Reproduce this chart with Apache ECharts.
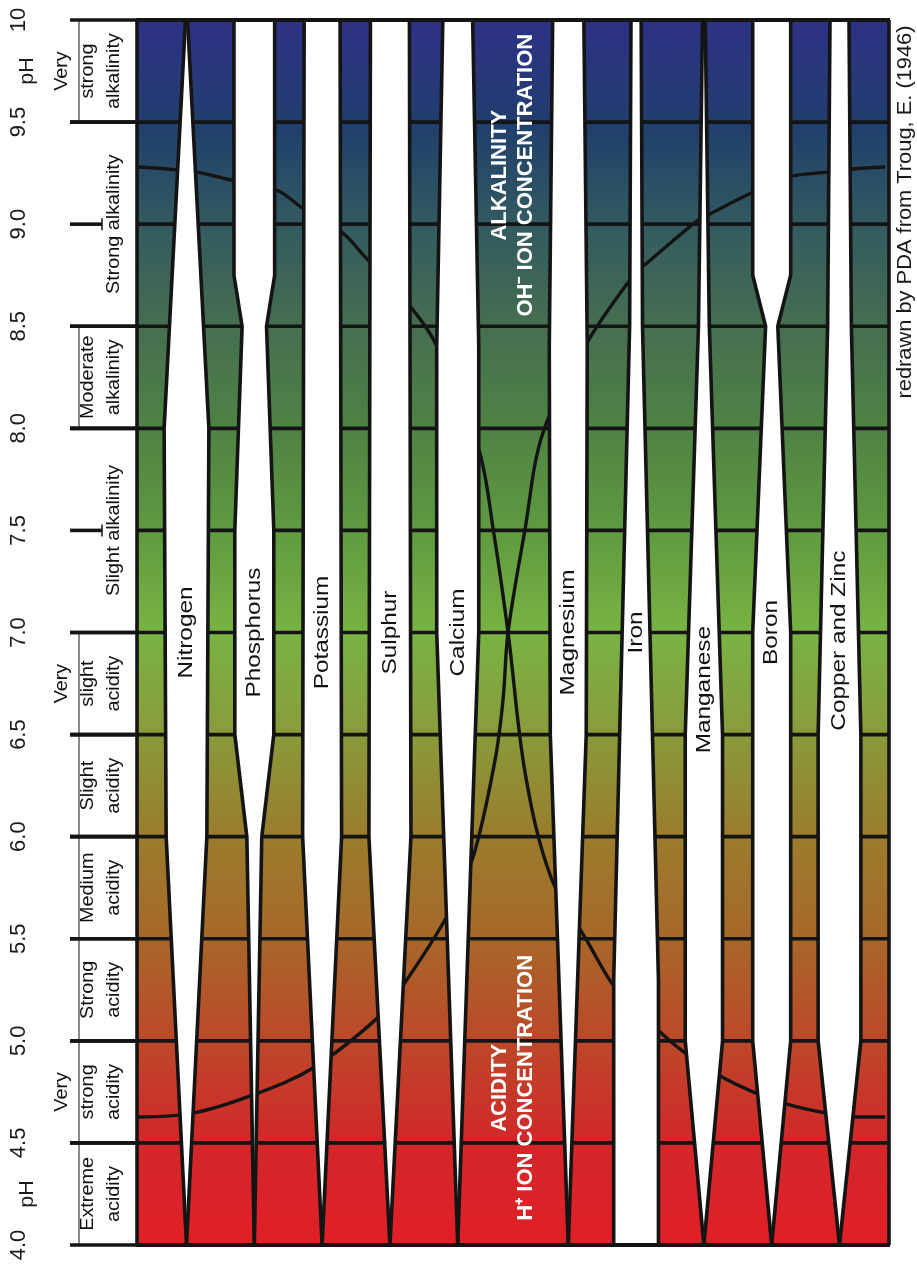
<!DOCTYPE html>
<html><head><meta charset="utf-8">
<script src="https://cdn.jsdelivr.net/npm/echarts@6/dist/echarts.min.js"></script>
<style>html,body{margin:0;padding:0;background:#fff}#c{width:917px;height:1267px}</style>
</head><body><div id="c"></div>
<script>
// ---------------- data ----------------
const phTicks = [4, 4.5, 5, 5.5, 6, 6.5, 7, 7.5, 8, 8.5, 9, 9.5, 10];
const tickLabels = ['4.0','4.5','5.0','5.5','6.0','6.5','7.0','7.5','8.0','8.5','9.0','9.5','10'];

const classNames = ['Extreme\nacidity','Very\nstrong\nacidity','Strong\nacidity','Medium\nacidity','Slight\nacidity',
  'Very\nslight\nacidity','Slight alkalinity','Moderate\nalkalinity','Strong alkalinity','Very\nstrong\nalkalinity'];
const classFrom = [4, 4.5, 5, 5.5, 6, 6.5, 7, 8, 8.5, 9.5];
const classTo   = [4.5, 5, 5.5, 6, 6.5, 7, 8, 8.5, 9.5, 10];

const nutrients = ['Nitrogen','Phosphorus','Potassium','Sulphur','Calcium','Magnesium','Iron','Manganese','Boron','Copper and Zinc'];
// band width (relative availability, in column units) at pH breakpoints [pH, width]
const nitrogen   = [[4,0],[6,0.60],[8,0.66],[10,0.03]];
const phosphorus = [[4,0],[6,0.22],[6.5,0.575],[7.5,0.575],[8.5,0.36],[8.75,0.60],[10,0.60]];
const potassium  = [[4,0],[6,0.575],[10,0.53]];
const sulphur    = [[4,0],[6,0.62],[10,0.575]];
const calcium    = [[4,0],[7,0.62],[8.4,0.62],[10,0.44]];
const magnesium  = [[4,0],[6.5,0.53],[8.4,0.56],[10,0.46]];
const iron       = [[4,0.66],[5.3,0.66],[8.5,0.19],[10,0.15]];
const manganese  = [[4,0],[5,0.55],[6.5,0.55],[8.5,0.16],[10,0.04]];
const boron      = [[4,0],[5,0.56],[7,0.56],[8.5,0.18],[8.75,0.56],[10,0.56]];
const copperZinc = [[4,0],[5,0.63],[6.5,0.63],[8.5,0.35],[10,0.28]];
const profiles = [nitrogen, phosphorus, potassium, sulphur, calcium, magnesium, iron, manganese, boron, copperZinc];

// OH- / H+ concentration curves [x (column units), pH]
const curveA = [[-0.715,9.28],[-0.287,9.27],[0.155,9.255],[0.671,9.215],[1.335,9.166],[1.704,9.08],[2.294,8.96],
  [2.633,8.84],[3.267,8.61],[3.665,8.42],[4.30,7.91],[4.53,7.49],[4.742,7.0],[5.0,6.3],[5.376,5.8],[5.907,5.49],
  [6.364,5.24],[7.028,5.03],[7.397,4.93],[7.912,4.82],[8.355,4.75],[8.857,4.69],[9.373,4.65],[9.890,4.627],[10.303,4.627]];
const curveB = [[-0.715,4.627],[0.096,4.646],[0.981,4.735],[1.866,4.867],[2.810,5.11],[3.149,5.25],[3.842,5.61],
  [4.226,5.90],[4.55,6.375],[4.668,6.67],[4.742,7.0],[4.99,7.5],[5.258,7.98],[5.907,8.42],[6.615,8.76],[6.792,8.81],
  [7.544,9.02],[7.720,9.05],[8.311,9.15],[8.857,9.23],[9.447,9.255],[9.816,9.27],[10.303,9.28]];

// ---------------- layout / style ----------------
const X_MIN = -0.73, X_MAX = 10.36, GAP = 0.63;
const INK = '#141414';
const LW = 3.6;
const FONT = '"Liberation Sans", Arial, Helvetica, sans-serif';
const colorStops = [
  {offset: 0.000, color: '#2d3184'},
  {offset: 0.070, color: '#243b73'},
  {offset: 0.084, color: '#1f3e6c'},
  {offset: 0.167, color: '#335a60'},
  {offset: 0.250, color: '#456e50'},
  {offset: 0.333, color: '#4f8244'},
  {offset: 0.417, color: '#5f9a40'},
  {offset: 0.500, color: '#79b343'},
  {offset: 0.567, color: '#86a03d'},
  {offset: 0.667, color: '#9a7c2c'},
  {offset: 0.750, color: '#a8672a'},
  {offset: 0.833, color: '#bc4829'},
  {offset: 0.917, color: '#d2272a'},
  {offset: 1.000, color: '#e11f27'}
];
const centerOf = i => i + (i >= 5 ? GAP : 0);

const chart = echarts.init(document.getElementById('c'), null, {renderer: 'canvas'});
chart.setOption({
  animation: false,
  backgroundColor: '#fff',
  grid: {left: 137, right: 28, top: 20, bottom: 22},
  xAxis: {type: 'value', min: X_MIN, max: X_MAX, show: false},
  yAxis: {
    type: 'value', min: 4, max: 10, interval: 0.5,
    axisLine: {show: false}, axisTick: {show: false}, splitLine: {show: false},
    axisLabel: {
      rotate: 90, margin: 107, fontSize: 22, fontFamily: FONT, color: '#1a1a1a',
      formatter: v => tickLabels[phTicks.indexOf(v)] || ''
    }
  },
  graphic: [{
    type: 'text', x: 906, y: 212, rotation: Math.PI / 2, scaleX: 1.12,
    style: {text: 'redrawn by PDA from Troug, E. (1946)', font: '19.5px ' + FONT, fill: '#1a1a1a', align: 'center', verticalAlign: 'middle'}
  }],
  series: [
    { // background gradient
      type: 'custom', z: 1, silent: true, data: [[X_MIN, 4]],
      renderItem: (p, api) => {
        const a = api.coord([X_MIN, 10]), b = api.coord([X_MAX, 4]);
        return {type: 'rect', shape: {x: a[0], y: a[1], width: b[0] - a[0], height: b[1] - a[1]},
          style: {fill: new echarts.graphic.LinearGradient(0, 0, 0, 1, colorStops)}};
      }
    },
    { // pH grid lines
      type: 'custom', z: 2, silent: true, data: phTicks.map(v => [X_MIN, v]),
      renderItem: (p, api) => {
        const a = api.coord([X_MIN, api.value(1)]), b = api.coord([X_MAX, api.value(1)]);
        return {type: 'line', shape: {x1: a[0], y1: a[1], x2: b[0], y2: b[1]}, style: {stroke: INK, lineWidth: LW}};
      }
    },
    {type: 'line', z: 3, silent: true, data: curveA, smooth: 0.35, showSymbol: false, lineStyle: {color: INK, width: 3.4}},
    {type: 'line', z: 3, silent: true, data: curveB, smooth: 0.35, showSymbol: false, lineStyle: {color: INK, width: 3.4}},
    { // nutrient availability bands
      type: 'custom', z: 4, silent: true, data: nutrients.map((n, i) => [i, 7]),
      renderItem: (p, api) => {
        const i = api.value(0), cx = centerOf(i), prof = profiles[i];
        const left = prof.map(([ph, w]) => api.coord([cx - w / 2, ph]));
        const right = prof.map(([ph, w]) => api.coord([cx + w / 2, ph]));
        const poly = left.concat(right.slice().reverse());
        const lp = api.coord([cx, i === 7 ? 6.72 : (i === 9 ? 6.96 : 7.0)]);
        return {type: 'group', children: [
          {type: 'polygon', shape: {points: poly}, style: {fill: '#fff'}},
          {type: 'polyline', shape: {points: left}, style: {stroke: INK, lineWidth: LW, fill: null, lineJoin: 'miter'}},
          {type: 'polyline', shape: {points: right}, style: {stroke: INK, lineWidth: LW, fill: null, lineJoin: 'miter'}},
          {type: 'text', x: lp[0], y: lp[1], rotation: Math.PI / 2, scaleX: 1.16,
            style: {text: nutrients[i], font: '21px ' + FONT, fill: '#111', align: 'center', verticalAlign: 'middle'}}
        ]};
      }
    },
    { // frame + big white labels
      type: 'custom', z: 5, silent: true, data: [[X_MIN, 4]],
      renderItem: (p, api) => {
        const a = api.coord([X_MIN, 10]), b = api.coord([X_MAX, 4]);
        const gx = (centerOf(4) + centerOf(5)) / 2;
        const top = api.coord([gx, 9.24]), bot = api.coord([gx, 4.77]);
        const big = {font: 'bold 22px ' + FONT, fill: '#fff', align: 'center', verticalAlign: 'middle', lineHeight: 26};
        return {type: 'group', children: [
          {type: 'line', shape: {x1: a[0] - 1, y1: a[1], x2: b[0] + 1, y2: a[1]}, style: {stroke: INK, lineWidth: 4.2}},
          {type: 'line', shape: {x1: a[0] - 1, y1: b[1], x2: b[0] + 1, y2: b[1]}, style: {stroke: INK, lineWidth: 4.2}},
          {type: 'line', shape: {x1: a[0], y1: a[1], x2: a[0], y2: b[1]}, style: {stroke: INK, lineWidth: LW}},
          {type: 'line', shape: {x1: b[0], y1: a[1], x2: b[0], y2: b[1]}, style: {stroke: INK, lineWidth: LW}},
          {type: 'text', x: top[0], y: top[1], rotation: Math.PI / 2, style: Object.assign({text: 'ALKALINITY\nOH\u207B ION CONCENTRATION'}, big)},
          {type: 'text', x: bot[0], y: bot[1], rotation: Math.PI / 2, style: Object.assign({text: 'ACIDITY\nH\u207A ION CONCENTRATION'}, big)}
        ]};
      }
    },
    { // soil reaction classes on the left
      type: 'custom', z: 5, silent: true, data: classNames.map((n, i) => [classFrom[i], classTo[i], i]),
      renderItem: (p, api) => {
        const f = api.value(0), t = api.value(1), idx = api.value(2);
        const p0 = api.coord([X_MIN, f]), p1 = api.coord([X_MIN, t]);
        const gx = p0[0], ym = (p0[1] + p1[1]) / 2;
        const ch = [
          {type: 'line', shape: {x1: gx - 67, y1: p0[1], x2: gx, y2: p0[1]}, style: {stroke: INK, lineWidth: LW}},
          {type: 'line', shape: {x1: gx - 67, y1: p1[1], x2: gx, y2: p1[1]}, style: {stroke: INK, lineWidth: LW}},
          {type: 'text', x: gx - 10, y: ym, rotation: Math.PI / 2, scaleX: 1.1,
            style: {text: classNames[idx], font: '18px ' + FONT, fill: '#111', align: 'center', verticalAlign: 'bottom', lineHeight: 26}}
        ];
        if (t - f > 0.75) {
          ch.push({type: 'line', shape: {x1: gx - 67, y1: ym, x2: gx - 35, y2: ym}, style: {stroke: INK, lineWidth: LW}});
          ch.push({type: 'line', shape: {x1: gx - 35, y1: ym - 6, x2: gx - 35, y2: ym + 6}, style: {stroke: INK, lineWidth: 1.5}});
        } else {
          ch.push({type: 'line', shape: {x1: gx - 58, y1: p1[1], x2: gx - 58, y2: p0[1]}, style: {stroke: INK, lineWidth: 1}});
        }
        if (idx === 0 || idx === 9) {
          const q = api.coord([X_MIN, (f + t) / 2]);
          ch.push({type: 'text', x: gx - 110, y: q[1], rotation: Math.PI / 2, scaleX: 1.08,
            style: {text: 'pH', font: '20px ' + FONT, fill: '#1a1a1a', align: 'center', verticalAlign: 'middle'}});
        }
        return {type: 'group', children: ch};
      }
    }
  ]
});
</script></body></html>
